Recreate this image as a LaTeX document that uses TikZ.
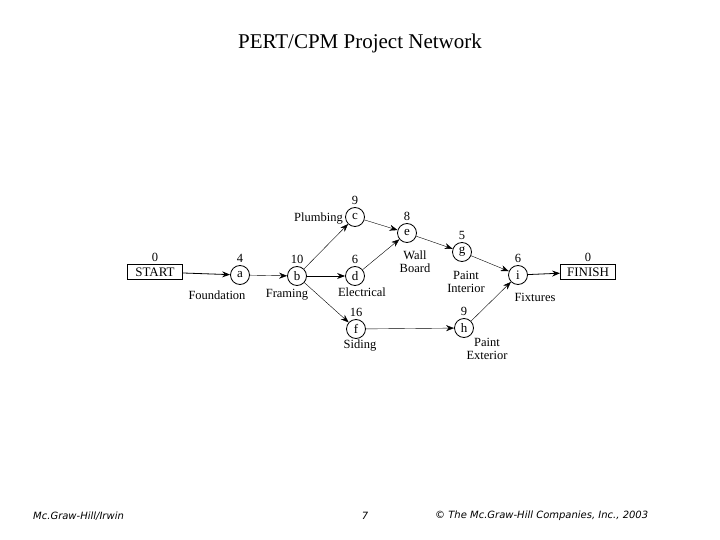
\documentclass[tikz,border=0pt]{standalone}
\usepackage{fontspec}
\setmainfont{Liberation Serif}
\newfontfamily\footfont{DejaVu Sans}
\usetikzlibrary{arrows.meta}
\begin{document}
\begin{tikzpicture}[x=1pt,y=-1pt,
  ev/.style={circle,draw,thick,minimum size=19pt,inner sep=0pt,font=\fontsize{13}{13}\selectfont},
  bx/.style={draw,thick,minimum width=55pt,minimum height=15pt,inner sep=1pt,font=\fontsize{13}{13}\selectfont},
  lab/.style={font=\fontsize{12.5}{13}\selectfont,align=center,inner sep=0pt},
  arr/.style={-{Stealth[length=8pt,width=6pt]},thin},
  ft/.style={font=\footfont\itshape\fontsize{10}{10}\selectfont,inner sep=0pt}]
\useasboundingbox (0,0) rectangle (720,540);
\node[font=\fontsize{21}{21}\selectfont] (title) at (360,43) {PERT/CPM Project Network};
\node[bx] (s) at (155,272) {START};
\node[ev] (a) at (240,275) {a};
\node[ev] (b) at (297,276) {b};
\node[ev] (c) at (355,217) {c};
\node[ev] (d) at (355,276) {d};
\node[ev] (e) at (407,233) {e};
\node[ev] (f) at (356,329) {f};
\node[ev] (g) at (462,252) {g};
\node[ev] (h) at (464,328) {h};
\node[ev] (i) at (518,275) {i};
\node[bx] (fin) at (588,272) {FINISH};
\foreach \n/\v in {s/0,a/4,b/10,c/9,d/6,e/8,f/16,g/5,h/9,i/6,fin/0}
  \node[lab,above=2pt] (t\n) at (\n.north) {\v};
\draw[arr,thick] (s) -- (a);
\draw[arr] (a) -- (b);
\draw[arr] (b) -- (c);
\draw[arr,thick] (b) -- (d);
\draw[arr] (b) -- (f);
\draw[arr] (c) -- (e);
\draw[arr] (d) -- (e);
\draw[arr] (e) -- (g);
\draw[arr] (g) -- (i);
\draw[arr] (f) -- (h);
\draw[arr] (h) -- (i);
\draw[arr,thick] (i) -- (fin);
\node[lab,anchor=east] (lc) at (343,219) {Plumbing};
\node[lab] (la) at (217,295) {Foundation};
\node[lab] (lb) at (287,295) {Framing};
\node[lab] (ld) at (362,292) {Electrical};
\node[lab] (le) at (415,262) {Wall\\Board};
\node[lab] (lg) at (466,282) {Paint\\Interior};
\node[lab] (li) at (535,297) {Fixtures};
\node[lab] (lf) at (360,346) {Siding};
\node[lab] (lh) at (487,349) {Paint\\Exterior};
\node[ft,anchor=west] (f1) at (33,516) {Mc.Graw-Hill/Irwin};
\node[ft] (f2) at (365,516) {7};
\node[ft,anchor=west] (f3) at (435,516) {© The Mc.Graw-Hill Companies, Inc., 2003};
\end{tikzpicture}
\end{document}
